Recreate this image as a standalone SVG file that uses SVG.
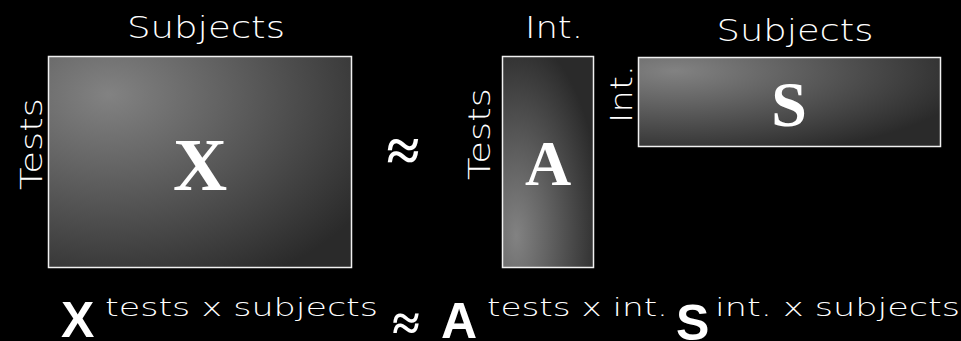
<svg xmlns="http://www.w3.org/2000/svg" width="961" height="341" viewBox="0 0 961 341">
<defs>
<radialGradient id="gX" cx="0.2" cy="0.18" r="1.0" fx="0.2" fy="0.18">
<stop offset="0" stop-color="#828282"/>
<stop offset="0.35" stop-color="#646464"/>
<stop offset="1" stop-color="#2a2a2a"/>
</radialGradient>
<radialGradient id="gA" cx="0.15" cy="0.85" r="0.95" fx="0.15" fy="0.85">
<stop offset="0" stop-color="#828282"/>
<stop offset="0.35" stop-color="#646464"/>
<stop offset="1" stop-color="#2a2a2a"/>
</radialGradient>
<radialGradient id="gS" cx="0.12" cy="0.15" r="1.0" fx="0.12" fy="0.15">
<stop offset="0" stop-color="#828282"/>
<stop offset="0.35" stop-color="#646464"/>
<stop offset="1" stop-color="#2a2a2a"/>
</radialGradient>
<style>
.box{stroke:#f0f0f0;stroke-width:1.5}
.lbl{font-family:"DejaVu Sans","Liberation Sans",sans-serif;font-weight:200;font-size:31px;fill:#ffffff}
.big{font-family:"Liberation Serif","Times New Roman",serif;font-weight:bold;fill:#ffffff}
.bs{font-family:"Liberation Sans",Arial,sans-serif;font-weight:bold;font-size:50px;fill:#ffffff}
.sup{font-family:"DejaVu Sans","Liberation Sans",sans-serif;font-weight:200;font-size:24px;fill:#ffffff}
.rot{opacity:0.999}
</style>
</defs>
<rect width="961" height="341" fill="#000000"/>
<g id="matrixX">
<rect class="box" x="48.5" y="56.5" width="303" height="211" fill="url(#gX)"/>
<text class="big" x="200" y="190" font-size="75" text-anchor="middle">X</text>
<text class="lbl" x="206" y="38" text-anchor="middle" textLength="158" lengthAdjust="spacingAndGlyphs">Subjects</text>
<text class="lbl rot" transform="translate(42,144) rotate(-90)" text-anchor="middle" textLength="92" lengthAdjust="spacingAndGlyphs">Tests</text>
</g>
<g id="approx">
<text class="big" x="403" y="171" font-size="60" text-anchor="middle">≈</text>
</g>
<g id="matrixA">
<rect class="box" x="502.5" y="56.5" width="91" height="211" fill="url(#gA)"/>
<text class="big" x="548" y="185" font-size="64" text-anchor="middle">A</text>
<text class="lbl" x="554" y="38" text-anchor="middle" textLength="58" lengthAdjust="spacingAndGlyphs">Int.</text>
<text class="lbl rot" transform="translate(490,134) rotate(-90)" text-anchor="middle" textLength="92" lengthAdjust="spacingAndGlyphs">Tests</text>
</g>
<g id="matrixS">
<rect class="box" x="638.5" y="57.5" width="302" height="89" fill="url(#gS)"/>
<text class="big" x="789" y="126" font-size="64" text-anchor="middle">S</text>
<text class="lbl" x="795" y="41" text-anchor="middle" textLength="157" lengthAdjust="spacingAndGlyphs">Subjects</text>
<text class="lbl rot" transform="translate(632,94) rotate(-90)" text-anchor="middle" textLength="58" lengthAdjust="spacingAndGlyphs">Int.</text>
</g>
<g id="equation">
<text class="bs" x="61" y="337">X</text>
<text class="sup" x="105" y="316" textLength="273" lengthAdjust="spacingAndGlyphs">tests x subjects</text>
<text class="big" x="406" y="340" font-size="50" text-anchor="middle">≈</text>
<text class="bs" x="441" y="338">A</text>
<text class="sup" x="487" y="316" textLength="181" lengthAdjust="spacingAndGlyphs">tests x int.</text>
<text class="bs" x="676" y="340">S</text>
<text class="sup" x="715" y="316" textLength="245" lengthAdjust="spacingAndGlyphs">int. x subjects</text>
</g>
<g id="connectors"/>
</svg>
